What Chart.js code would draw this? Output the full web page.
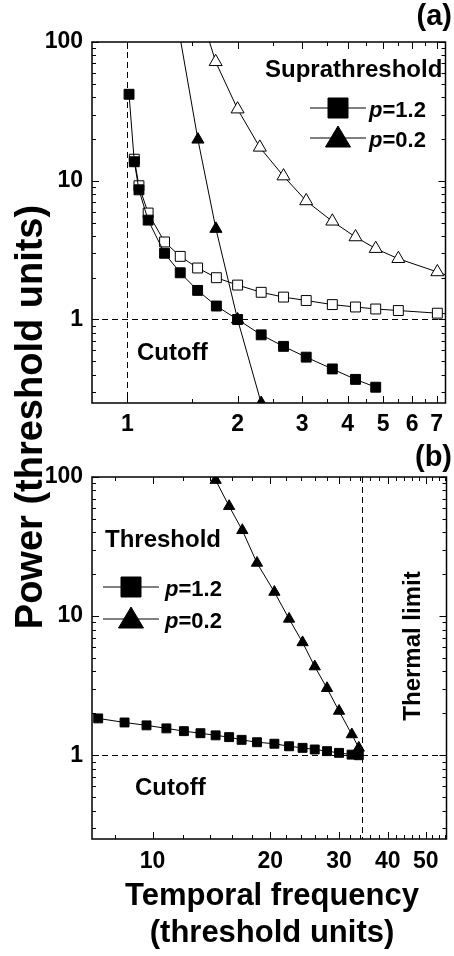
<!DOCTYPE html>
<html>
<head>
<meta charset="utf-8">
<script src="https://cdn.jsdelivr.net/npm/chart.js@4.4.1/dist/chart.umd.min.js"></script>
<style>
  body { margin: 0; background: #fff; }
  #page { position: relative; width: 454px; height: 956px; overflow: hidden; font-family: "Liberation Sans", Arial, sans-serif; }
  #chartA { position: absolute; left: 0; top: 0; }
  #chartB { position: absolute; left: 0; top: 440px; }
  #ytitle { position: absolute; left: -221px; top: 397px; width: 500px; height: 40px; line-height: 40px;
            text-align: center; font-weight: bold; font-size: 38px; white-space: nowrap; transform: rotate(-90deg); }
</style>
</head>
<body>
<div id="page">
  <canvas id="chartA" width="454" height="440"></canvas>
  <canvas id="chartB" width="454" height="516"></canvas>
  <div id="ytitle">Power (threshold units)</div>
</div>
<script>
const FONT = '"Liberation Sans", Arial, sans-serif';

// (a) suprathreshold
const aSqFilledX = [1.01, 1.044, 1.075, 1.139, 1.263, 1.394, 1.555, 1.75, 2.0, 2.32, 2.67, 3.08, 3.63, 4.2, 4.77];
const aSqFilledY = [42, 13.7, 8.6, 5.2, 3.0, 2.17, 1.62, 1.25, 1.0, 0.775, 0.64, 0.535, 0.44, 0.37, 0.325];
const aSqOpenX = [1.044, 1.075, 1.139, 1.263, 1.394, 1.555, 1.75, 2.0, 2.32, 2.67, 3.08, 3.63, 4.2, 4.77, 5.5, 7.03, 8.0];
const aSqOpenY = [14.3, 9.2, 5.85, 3.62, 2.85, 2.35, 2.0, 1.77, 1.57, 1.45, 1.37, 1.28, 1.23, 1.19, 1.16, 1.11, 1.085];
const aTriFilledX = [1.263, 1.558, 1.745, 2.0, 2.32];
const aTriFilledY = [470, 19.8, 4.5, 1.0, 0.25];
const aTriOpenX = [1.555, 1.742, 2.0, 2.3, 2.67, 3.08, 3.63, 4.2, 4.77, 5.5, 7.03, 8.0];
const aTriOpenY = [190, 72, 32.8, 17.4, 10.8, 7.15, 5.1, 3.93, 3.24, 2.74, 2.2, 1.96];

// (b) threshold
const bSqX = [7.26, 8.48, 9.65, 10.85, 12.03, 13.26, 14.5, 15.7, 16.9, 18.5, 20.5, 22.35, 24.2, 26.0, 27.95, 30.0, 32.3, 33.7];
const bSqY = [1.84, 1.72, 1.64, 1.56, 1.49, 1.44, 1.39, 1.35, 1.29, 1.24, 1.21, 1.16, 1.13, 1.10, 1.07, 1.04, 1.01, 1.0];
const bTriX = [14.5, 15.7, 16.97, 18.5, 20.5, 22.35, 24.2, 26.0, 27.95, 30.0, 32.35, 33.7];
const bTriY = [95, 61.7, 41.4, 24.1, 14.9, 9.55, 6.47, 4.34, 3.03, 2.08, 1.41, 1.13];

// axes
const yTickLabels = [1, 10, 100];
const aTickLabels = [1, 2, 3, 4, 5, 6, 7];
const aMinorTicks = [1.5, 2.5, 3.5, 4.5, 5.5, 6.5];
const bTickLabels = [10, 20, 30, 40, 50];
const bMinorTicks = [8, 12, 14, 16, 18, 22, 24, 26, 28, 32, 34, 36, 38, 42, 44, 46, 48, 52, 54, 56];
const cutoffFreq = 1;
const cutoffPower = 1;
const thermalLimit = 34.3;

const pts = (xs, ys) => xs.map((x, i) => ({x: x, y: ys[i]}));

function series(label, xs, ys, style, radius, filled) {
  return {
    label: label,
    data: pts(xs, ys),
    borderColor: '#000',
    borderWidth: 1,
    pointStyle: style,
    pointRadius: radius,
    pointBackgroundColor: filled ? '#000' : '#fff',
    pointBorderColor: '#000',
    pointBorderWidth: 1,
    tension: 0,
    clip: 0
  };
}

function logMinors(lo, hi) {
  const out = [];
  for (let d = 0.1; d < hi; d *= 10) {
    for (let k = 2; k <= 9; k++) {
      const v = +(d * k).toPrecision(3);
      if (v > lo && v < hi) out.push(v);
    }
  }
  return out;
}

function drawMarker(ctx, style, cx, cy, filled) {
  ctx.beginPath();
  if (style === 'rect') {
    ctx.rect(cx - 10, cy - 10, 20, 20);
  } else {
    ctx.moveTo(cx, cy - 12);
    ctx.lineTo(cx + 12.5, cy + 9);
    ctx.lineTo(cx - 12.5, cy + 9);
    ctx.closePath();
  }
  ctx.fillStyle = filled ? '#000' : '#fff';
  ctx.fill();
  ctx.lineWidth = 1;
  ctx.stroke();
}

const decor = {
  id: 'decor',
  beforeDatasetsDraw(chart, args, o) {
    const {ctx, chartArea: a, scales: {x, y}} = chart;
    ctx.save();
    ctx.strokeStyle = '#000';
    ctx.lineWidth = 1;
    ctx.setLineDash([6, 4]);
    ctx.beginPath();
    o.vLines.forEach(v => {
      const px = Math.round(x.getPixelForValue(v)) + 0.5;
      ctx.moveTo(px, a.top); ctx.lineTo(px, a.bottom);
    });
    o.hLines.forEach(v => {
      const py = Math.round(y.getPixelForValue(v)) + 0.5;
      ctx.moveTo(a.left, py); ctx.lineTo(a.right, py);
    });
    ctx.stroke();
    ctx.restore();
  },
  afterDraw(chart, args, o) {
    const {ctx, chartArea: a, scales: {x, y}} = chart;
    ctx.save();
    ctx.strokeStyle = '#000';
    ctx.lineWidth = 1;
    ctx.beginPath();
    const tickX = (v, len) => {
      const px = Math.round(x.getPixelForValue(v)) + 0.5;
      ctx.moveTo(px, a.bottom); ctx.lineTo(px, a.bottom - len);
      ctx.moveTo(px, a.top); ctx.lineTo(px, a.top + len);
    };
    const tickY = (v, len) => {
      const py = Math.round(y.getPixelForValue(v)) + 0.5;
      ctx.moveTo(a.left, py); ctx.lineTo(a.left + len, py);
      ctx.moveTo(a.right, py); ctx.lineTo(a.right - len, py);
    };
    o.xMajor.forEach(v => tickX(v, 7));
    o.xMinor.forEach(v => { if (v < x.max) tickX(v, 4); });
    yTickLabels.forEach(v => tickY(v, 7));
    logMinors(y.min, y.max).forEach(v => tickY(v, 4));
    ctx.stroke();
    ctx.lineWidth = 1.5;
    ctx.strokeRect(a.left, a.top, a.right - a.left, a.bottom - a.top);

    ctx.fillStyle = '#000';
    ctx.textBaseline = 'alphabetic';
    o.texts.forEach(t => {
      ctx.save();
      ctx.font = 'bold ' + t.size + 'px ' + FONT;
      ctx.textAlign = t.align || 'left';
      ctx.translate(t.x, t.y);
      if (t.rotate) ctx.rotate(t.rotate);
      ctx.fillText(t.text, 0, 0);
      ctx.restore();
    });

    o.legend.forEach(r => {
      ctx.strokeStyle = '#000';
      ctx.lineWidth = 1;
      ctx.beginPath();
      ctx.moveTo(r.x0, r.y); ctx.lineTo(r.x1, r.y);
      ctx.stroke();
      drawMarker(ctx, r.style, (r.x0 + r.x1) / 2, r.y, true);
      ctx.fillStyle = '#000';
      ctx.textAlign = 'left';
      ctx.font = 'italic bold 22px ' + FONT;
      ctx.fillText('p', r.tx, r.y + 8.5);
      const w = ctx.measureText('p').width;
      ctx.font = 'bold 22px ' + FONT;
      ctx.fillText('=' + r.value, r.tx + w, r.y + 8.5);
    });
    ctx.restore();
  }
};

function axisX(min, max, labels, padTop, height) {
  return {
    type: 'logarithmic', min: min, max: max,
    afterBuildTicks: s => { s.ticks = labels.map(v => ({value: v})); },
    afterFit: s => { s.height = height; },
    grid: {display: false, drawTicks: false},
    border: {display: false},
    ticks: {
      color: '#000', autoSkip: false, maxRotation: 0, minRotation: 0, padding: padTop,
      font: {family: FONT, size: 23, weight: 'bold'},
      callback: v => String(v)
    }
  };
}

function axisY() {
  return {
    type: 'logarithmic', min: 0.25, max: 100,
    afterBuildTicks: s => { s.ticks = yTickLabels.map(v => ({value: v})); },
    afterFit: s => { s.width = 92; },
    grid: {display: false, drawTicks: false},
    border: {display: false},
    ticks: {
      color: '#000', padding: 9,
      font: {family: FONT, size: 23, weight: 'bold'},
      callback: v => String(v)
    }
  };
}

new Chart(document.getElementById('chartA'), {
  type: 'line',
  data: {
    datasets: [
      series('p=1.2', aSqFilledX, aSqFilledY, 'rect', 7, true),
      series('p=0.2', aTriFilledX, aTriFilledY, 'triangle', 7, true),
      series('p=1.2 suprathreshold', aSqOpenX, aSqOpenY, 'rect', 7, false),
      series('p=0.2 suprathreshold', aTriOpenX, aTriOpenY, 'triangle', 7.5, false)
    ]
  },
  options: {
    responsive: false,
    animation: false,
    events: [],
    layout: {padding: {left: 0, top: 42, right: 2, bottom: 0}},
    scales: {
      x: axisX(0.8, 7.4, aTickLabels, 8, 37),
      y: axisY()
    },
    plugins: {
      legend: {display: false},
      tooltip: {enabled: false},
      decor: {
        vLines: [cutoffFreq],
        hLines: [cutoffPower],
        xMajor: aTickLabels,
        xMinor: aMinorTicks,
        texts: [
          {text: '(a)', x: 452, y: 25, size: 29, align: 'right'},
          {text: 'Suprathreshold', x: 265, y: 77, size: 24},
          {text: 'Cutoff', x: 137, y: 360, size: 24}
        ],
        legend: [
          {style: 'rect', x0: 310, x1: 366, y: 108, tx: 369, value: '1.2'},
          {style: 'triangle', x0: 310, x1: 366, y: 138, tx: 369, value: '0.2'}
        ]
      }
    }
  },
  plugins: [decor]
});

new Chart(document.getElementById('chartB'), {
  type: 'line',
  data: {
    datasets: [
      series('p=1.2', bSqX, bSqY, 'rect', 6.3, true),
      series('p=0.2', bTriX, bTriY, 'triangle', 6.5, true)
    ]
  },
  options: {
    responsive: false,
    animation: false,
    events: [],
    layout: {padding: {left: 0, top: 37, right: 2, bottom: 0}},
    scales: {
      x: axisX(7, 56.5, bTickLabels, 9, 117),
      y: axisY()
    },
    plugins: {
      legend: {display: false},
      tooltip: {enabled: false},
      decor: {
        vLines: [thermalLimit],
        hLines: [cutoffPower],
        xMajor: bTickLabels,
        xMinor: bMinorTicks,
        texts: [
          {text: '(b)', x: 452, y: 26, size: 29, align: 'right'},
          {text: 'Threshold', x: 105, y: 107, size: 24},
          {text: 'Cutoff', x: 135, y: 355, size: 24},
          {text: 'Thermal limit', x: 420, y: 206, size: 24, align: 'center', rotate: -Math.PI / 2},
          {text: 'Temporal frequency', x: 272, y: 465, size: 31, align: 'center'},
          {text: '(threshold units)', x: 272, y: 502, size: 31, align: 'center'}
        ],
        legend: [
          {style: 'rect', x0: 103, x1: 159, y: 147, tx: 165, value: '1.2'},
          {style: 'triangle', x0: 103, x1: 159, y: 179, tx: 165, value: '0.2'}
        ]
      }
    }
  },
  plugins: [decor]
});
</script>
</body>
</html>
